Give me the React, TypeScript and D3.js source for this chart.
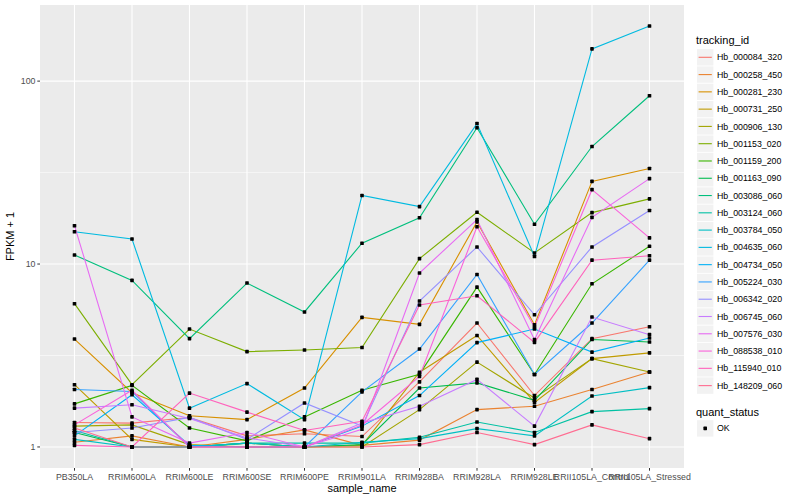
import * as d3 from "d3";

// ---- data -------------------------------------------------------------
const samples = [
  "PB350LA",
  "RRIM600LA",
  "RRIM600LE",
  "RRIM600SE",
  "RRIM600PE",
  "RRIM901LA",
  "RRIM928BA",
  "RRIM928LA",
  "RRIM928LE",
  "RRII105LA_Control",
  "RRII105LA_Stressed",
];

const trackingIds = [
  "Hb_000084_320",
  "Hb_000258_450",
  "Hb_000281_230",
  "Hb_000731_250",
  "Hb_000906_130",
  "Hb_001153_020",
  "Hb_001159_200",
  "Hb_001163_090",
  "Hb_003086_060",
  "Hb_003124_060",
  "Hb_003784_050",
  "Hb_004635_060",
  "Hb_004734_050",
  "Hb_005224_030",
  "Hb_006342_020",
  "Hb_006745_060",
  "Hb_007576_030",
  "Hb_088538_010",
  "Hb_115940_010",
  "Hb_148209_060",
];

// FPKM + 1, one row per tracking id, one column per sample
const fpkmPlusOne = [
  [1.36, 1.35, 1.45, 1.15, 1.18, 1.14, 2.27, 4.76, 1.91, 3.91, 4.54],
  [1.06, 1.15, 1.0, 1.1, 1.24, 1.02, 1.09, 1.6, 1.67, 2.06, 2.57],
  [3.89, 1.98, 1.48, 1.41, 2.1, 5.11, 4.68, 17.0, 4.66, 28.3, 33.3],
  [2.19, 1.1, 1.0, 1.05, 1.0, 1.02, 2.56, 4.07, 1.75, 3.04, 3.27],
  [1.3, 1.32, 1.03, 1.0, 1.0, 1.0, 1.6, 2.91, 1.85, 3.04, 2.57],
  [6.07, 2.19, 4.41, 3.32, 3.39, 3.5, 10.7, 19.2, 11.5, 19.1, 22.7],
  [1.72, 2.17, 1.27, 1.08, 1.46, 2.04, 2.5, 7.48, 2.49, 7.8, 12.5],
  [1.2, 1.0, 1.0, 1.05, 1.0, 1.03, 2.1, 2.24, 1.8, 3.87, 3.75],
  [11.2, 8.14, 3.91, 7.87, 5.47, 13.0, 17.9, 55.6, 16.5, 43.9, 83.2],
  [1.23, 1.0, 1.0, 1.05, 1.05, 1.05, 1.13, 1.37, 1.2, 1.56, 1.62],
  [1.1, 1.0, 1.0, 1.05, 1.0, 1.06, 1.11, 1.26, 1.15, 1.9, 2.11],
  [15.0, 13.7, 1.63, 2.22, 1.41, 23.7, 20.6, 58.6, 11.0, 150, 200],
  [1.15, 1.93, 1.02, 1.0, 1.0, 1.3, 1.91, 3.72, 4.41, 3.3, 3.94],
  [2.06, 2.01, 1.0, 1.0, 1.0, 2.0, 3.43, 8.77, 2.49, 4.76, 10.5],
  [1.2, 1.27, 1.45, 1.1, 1.74, 1.3, 6.28, 12.4, 5.28, 12.4, 19.6],
  [1.63, 1.7, 1.43, 1.12, 1.0, 1.35, 1.67, 2.34, 1.3, 5.13, 4.11],
  [16.2, 1.46, 1.05, 1.2, 1.0, 1.25, 8.93, 17.5, 3.86, 18.0, 29.3],
  [1.32, 2.04, 1.0, 1.0, 1.0, 1.32, 2.43, 16.0, 4.52, 25.5, 13.9],
  [1.02, 1.0, 1.97, 1.55, 1.23, 1.38, 5.97, 6.71, 3.73, 10.5, 11.1],
  [1.27, 1.0, 1.0, 1.0, 1.0, 1.0, 1.03, 1.2, 1.03, 1.32, 1.11],
];

const yTicks = [1, 10, 100];
const quantStatus = ["OK"];

// ggplot2 default hue palette for 20 levels
const palette = [
  "#F8766D", "#EA8331", "#D89000", "#C09B00", "#A3A500",
  "#7CAE00", "#39B600", "#00BB4E", "#00BF7D", "#00C1A3",
  "#00BFC4", "#00BAE0", "#00B0F6", "#35A2FF", "#9590FF",
  "#C77CFF", "#E76BF3", "#FA62DB", "#FF62BC", "#FF6C91",
];

// ---- layout -----------------------------------------------------------
const W = 800;
const H = 500;
const panel = { left: 40, right: 684, top: 5, bottom: 468 };
const font = "'Liberation Sans', Arial, Helvetica, sans-serif";

export default function App() {
  const x = d3
    .scalePoint<string>()
    .domain(samples)
    .range([panel.left, panel.right])
    .padding(0.6);

  const all = fpkmPlusOne.flat();
  const lo = Math.log10(d3.min(all) ?? 1);
  const hi = Math.log10(d3.max(all) ?? 100);
  const pad = (hi - lo) * 0.05;
  const y = d3
    .scaleLog()
    .domain([10 ** (lo - pad), 10 ** (hi + pad)])
    .range([panel.bottom, panel.top]);

  // minor breaks halfway between majors (in log space)
  const minor = [10 ** 0.5, 10 ** 1.5].filter(
    (v) => y(v) > panel.top && y(v) < panel.bottom,
  );

  const line = d3
    .line<number>()
    .x((_, i) => x(samples[i]) ?? 0)
    .y((d) => y(d));

  const legendX = 697;
  const keyH = 17.28;
  const firstKey = 57.3;
  const qsTitleY = firstKey + keyH * trackingIds.length + 9;

  return (
    <svg
      width={W}
      height={H}
      style={{ position: "absolute", left: 0, top: 0, background: "#fff" }}
      fontFamily={font}
    >
      {/* panel */}
      <rect
        x={panel.left}
        y={panel.top}
        width={panel.right - panel.left}
        height={panel.bottom - panel.top}
        fill="#EBEBEB"
      />
      {minor.map((v) => (
        <line
          key={"mn" + v}
          x1={panel.left}
          x2={panel.right}
          y1={y(v)}
          y2={y(v)}
          stroke="#fff"
          strokeWidth={0.55}
        />
      ))}
      {yTicks.map((v) => (
        <line
          key={"mj" + v}
          x1={panel.left}
          x2={panel.right}
          y1={y(v)}
          y2={y(v)}
          stroke="#fff"
          strokeWidth={1.1}
        />
      ))}
      {samples.map((s) => (
        <line
          key={"vx" + s}
          x1={x(s)}
          x2={x(s)}
          y1={panel.top}
          y2={panel.bottom}
          stroke="#fff"
          strokeWidth={1.1}
        />
      ))}

      {/* lines */}
      {fpkmPlusOne.map((row, i) => (
        <path
          key={"ln" + i}
          d={line(row) ?? ""}
          fill="none"
          stroke={palette[i]}
          strokeWidth={1.1}
        />
      ))}

      {/* points */}
      {fpkmPlusOne.map((row, i) =>
        row.map((v, j) => (
          <rect
            key={`pt${i}-${j}`}
            x={(x(samples[j]) ?? 0) - 1.8}
            y={y(v) - 1.8}
            width={3.6}
            height={3.6}
            rx={0.6}
            fill="#000"
          />
        )),
      )}

      {/* y axis */}
      {yTicks.map((v) => (
        <g key={"yt" + v}>
          <line x1={panel.left - 2.7} x2={panel.left} y1={y(v)} y2={y(v)} stroke="#333" strokeWidth={1} />
          <text
            x={panel.left - 4.5}
            y={y(v)}
            dy="0.35em"
            textAnchor="end"
            fontSize={8.8}
            fill="#4D4D4D"
          >
            {v}
          </text>
        </g>
      ))}
      <text
        transform={`translate(14,${(panel.top + panel.bottom) / 2}) rotate(-90)`}
        textAnchor="middle"
        fontSize={11}
        fill="#000"
      >
        FPKM + 1
      </text>

      {/* x axis */}
      {samples.map((s) => (
        <g key={"xt" + s}>
          <line x1={x(s)} x2={x(s)} y1={panel.bottom} y2={panel.bottom + 2.7} stroke="#333" strokeWidth={1} />
          <text
            x={x(s)}
            y={panel.bottom + 12}
            textAnchor="middle"
            fontSize={8.8}
            fill="#4D4D4D"
          >
            {s}
          </text>
        </g>
      ))}
      <text
        x={(panel.left + panel.right) / 2}
        y={492}
        textAnchor="middle"
        fontSize={11}
        fill="#000"
      >
        sample_name
      </text>

      {/* legend: tracking_id */}
      <text x={legendX - 1} y={44} fontSize={11} fill="#000">
        tracking_id
      </text>
      {trackingIds.map((id, i) => {
        const cy = firstKey + i * keyH;
        return (
          <g key={"lg" + id}>
            <rect x={legendX} y={cy - 8.2} width={16.4} height={16.4} fill="#F2F2F2" />
            <line
              x1={legendX + 1.6}
              x2={legendX + 14.8}
              y1={cy}
              y2={cy}
              stroke={palette[i]}
              strokeWidth={1.1}
            />
            <text x={legendX + 20} y={cy} dy="0.35em" fontSize={8.8} fill="#000">
              {id}
            </text>
          </g>
        );
      })}

      {/* legend: quant_status */}
      <text x={legendX - 1} y={qsTitleY + 4} fontSize={11} fill="#000">
        quant_status
      </text>
      {quantStatus.map((q, i) => {
        const cy = qsTitleY + 16.5 + i * keyH;
        return (
          <g key={"qs" + q}>
            <rect x={legendX} y={cy - 8.2} width={16.4} height={16.4} fill="#F2F2F2" />
            <rect x={legendX + 6.4} y={cy - 1.8} width={3.6} height={3.6} rx={0.6} fill="#000" />
            <text x={legendX + 20} y={cy} dy="0.35em" fontSize={8.8} fill="#000">
              {q}
            </text>
          </g>
        );
      })}
    </svg>
  );
}
